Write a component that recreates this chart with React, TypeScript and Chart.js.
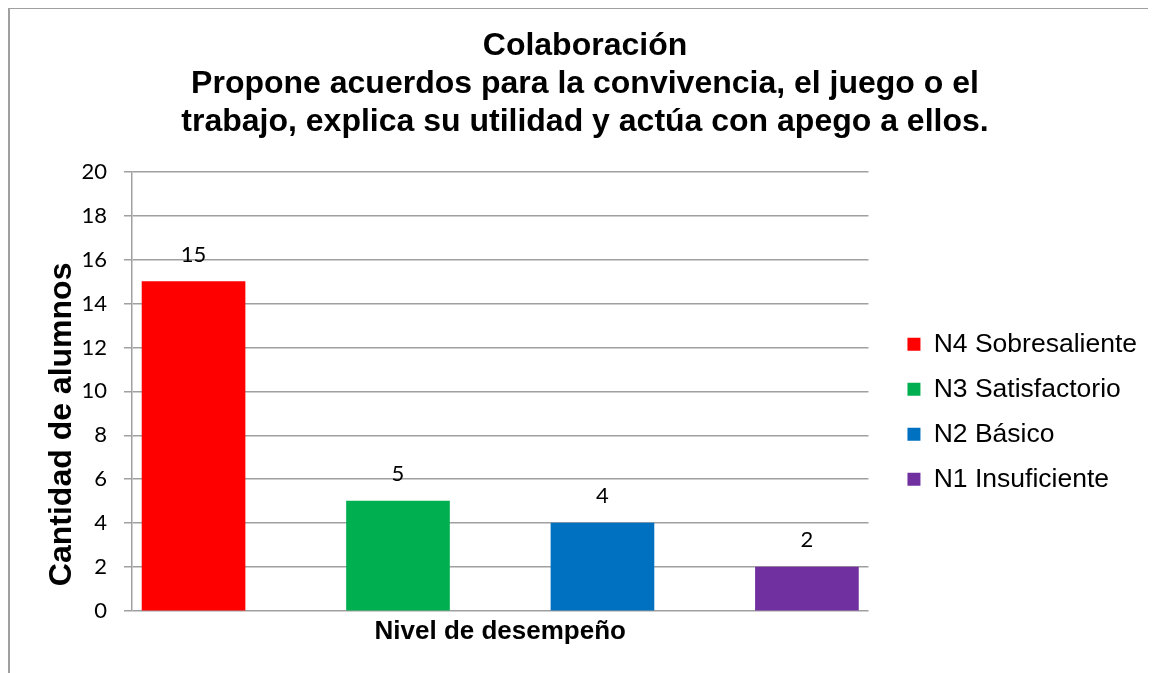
import React, { useEffect, useRef } from 'react';
import { Chart, registerables } from 'chart.js';

Chart.register(...registerables);

const titleLines = [
  'Colaboración',
  'Propone acuerdos para la convivencia, el juego o el',
  'trabajo, explica su utilidad y actúa con apego a ellos.',
];
const seriesNames = ['N4 Sobresaliente', 'N3 Satisfactorio', 'N2 Básico', 'N1 Insuficiente'];
const seriesValues = [15, 5, 4, 2];
const seriesColors = ['#FF0000', '#00B050', '#0070C0', '#7030A0'];
const yMin = 0;
const yMax = 20;
const yStep = 2;
const xAxisTitle = 'Nivel de desempeño';
const yAxisTitle = 'Cantidad de alumnos';

const ARIAL = '"Liberation Sans", Arial, sans-serif';
const CALIBRI = 'Lato, "Open Sans", sans-serif';

const valueLabels = {
  id: 'valueLabels',
  afterDatasetsDraw(chart: any) {
    const ctx = chart.ctx;
    ctx.save();
    ctx.font = `22px ${CALIBRI}`;
    ctx.fillStyle = '#000';
    ctx.textAlign = 'center';
    ctx.textBaseline = 'middle';
    chart.data.datasets.forEach((ds: any, i: number) => {
      const meta = chart.getDatasetMeta(i);
      meta.data.forEach((el: any, j: number) => {
        const v = ds.data[j].y;
        ctx.fillText(String(v), el.x, el.y - 27);
      });
    });
    ctx.restore();
  },
};

const yTitlePlugin = {
  id: 'yTitlePlugin',
  afterDraw(chart: any) {
    const { ctx, chartArea } = chart;
    const ys = chart.scales.y;
    ctx.save();
    ctx.translate(ys.left + 54, (chartArea.top + chartArea.bottom) / 2 + 33);
    ctx.rotate(-Math.PI / 2);
    ctx.font = `bold 32px ${ARIAL}`;
    ctx.fillStyle = '#000';
    ctx.textAlign = 'center';
    ctx.textBaseline = 'middle';
    ctx.fillText(yAxisTitle, 0, 0);
    ctx.restore();
  },
};

const gapAxis = (width: number, weight: number) => ({
  type: 'linear',
  position: 'right',
  display: true,
  weight,
  ticks: { display: false },
  grid: { display: false, drawTicks: false },
  border: { display: false },
  afterFit: (s: any) => {
    s.width = width;
  },
});

export default function App() {
  const ref = useRef<HTMLCanvasElement | null>(null);

  useEffect(() => {
    document.documentElement.style.overflow = 'hidden';
    if (!ref.current) return;
    const chart = new Chart(ref.current, {
      type: 'bar',
      data: {
        datasets: seriesNames.map((name, i) => ({
          label: name,
          data: [{ x: i, y: seriesValues[i] }],
          backgroundColor: seriesColors[i],
          borderWidth: 0,
          barThickness: 103,
          grouped: false,
        })),
      },
      options: {
        responsive: false,
        animation: false,
        layout: { padding: 0 },
        plugins: {
          tooltip: { enabled: false },
          title: {
            display: true,
            text: titleLines,
            color: '#000',
            font: { family: ARIAL, size: 32, weight: 'bold', lineHeight: 38 / 32 },
            padding: { top: 19, bottom: 30.7 },
          },
          legend: {
            position: 'right',
            align: 'center',
            fullSize: false,
            maxWidth: 400,
            title: { display: true, text: ' ', font: { size: 10, lineHeight: 1.2 }, padding: 14.5 },
            labels: {
              boxWidth: 13,
              boxHeight: 13,
              padding: 18.5,
              color: '#000',
              font: { family: ARIAL, size: 26.5 },
            },
          },
        },
        scales: {
          x: {
            type: 'linear',
            offset: false,
            min: -0.301,
            max: 3.301,
            ticks: { display: false },
            grid: { display: false, drawTicks: false, tickLength: 0, offset: false },
            border: { display: false },
            title: {
              display: true,
              text: xAxisTitle,
              color: '#000',
              font: { family: ARIAL, size: 26, weight: 'bold', lineHeight: 1.2 },
              padding: { top: 0, bottom: 21 },
            },
            afterFit: (s: any) => {
              s.height = 57;
            },
          },
          y: {
            type: 'linear',
            min: yMin,
            max: yMax,
            ticks: {
              stepSize: yStep,
              color: '#000',
              padding: 17,
              font: { family: CALIBRI, size: 22 },
            },
            grid: { color: '#a0a0a0', lineWidth: 1.5, tickLength: 8, drawTicks: true },
            border: { display: true, color: '#a0a0a0', width: 1.5 },
            afterFit: (s: any) => {
              s.width = 124;
            },
          },
          gapL: gapAxis(20.5, 0),
          gapR: gapAxis(15, 2000),
        },
      } as any,
      plugins: [valueLabels, yTitlePlugin],
    });
    return () => chart.destroy();
  }, []);

  return (
    <div style={{ position: 'relative', width: 1154, height: 700 }}>
      <div
        style={{
          position: 'absolute',
          top: -1,
          left: 0,
          width: 1154,
          height: 700,
          border: '2px solid #a0a0a0',
          boxSizing: 'border-box',
        }}
      />
      <canvas
        ref={ref}
        width={1154}
        height={660}
        style={{ position: 'absolute', top: 0, left: 0, width: 1154, height: 660 }}
      />
    </div>
  );
}
